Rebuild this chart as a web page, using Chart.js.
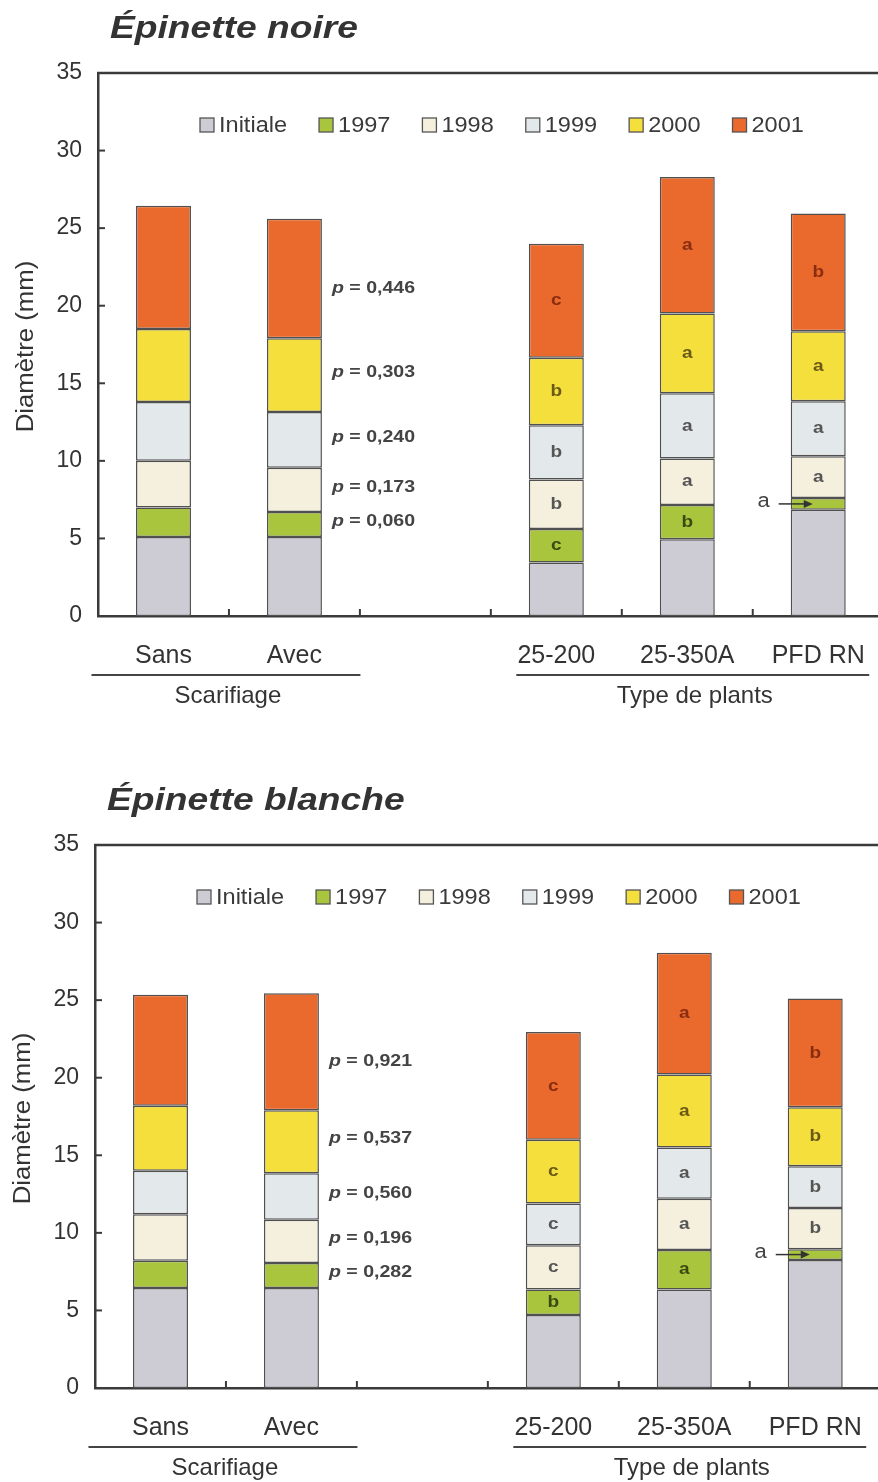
<!DOCTYPE html>
<html>
<head>
<meta charset="utf-8">
<script src="https://cdn.jsdelivr.net/npm/chart.js@4/dist/chart.umd.min.js"></script>
<style>
    html, body { margin: 0; padding: 0; background: #fff; overflow: hidden; }
    .chart-wrap { position: absolute; width: 890px; height: 772px; }
</style>
</head>
<body>
<div class="chart-wrap" style="left:0; top:0"><canvas id="chartNoire" width="890" height="772"></canvas></div>
<div class="chart-wrap" style="left:-3px; top:772px"><canvas id="chartBlanche" width="890" height="772"></canvas></div>

<script>
// Categories (index 2 is the empty gap between the two groups)
const categories = ["Sans", "Avec", "", "25-200", "25-350A", "PFD RN"];
const seriesNames = ["Initiale", "1997", "1998", "1999", "2000", "2001"];
const seriesColors = ["#cdccd4", "#a9c53d", "#f4f0dd", "#e3e8ea", "#f5df3d", "#ea6a2e"];
const letterColors = ["#444", "#3c4a12", "#555", "#555", "#6a5a16", "#8a2c10"];
const yTicks = [0, 5, 10, 15, 20, 25, 30, 35];

// Épinette noire : diameter (mm) reached at the end of each year
const noireInitiale = [5.1, 5.1, null, 3.45, 4.95, 6.85];
const noire1997 = [7.0, 6.7, null, 5.6, 7.15, 7.6];
const noire1998 = [10.0, 9.55, null, 8.8, 10.15, 10.3];
const noire1999 = [13.8, 13.15, null, 12.3, 14.35, 13.85];
const noire2000 = [18.5, 17.9, null, 16.65, 19.5, 18.35];
const noire2001 = [26.45, 25.6, null, 24.0, 28.3, 25.95];
const noirePValues = ["0,060", "0,173", "0,240", "0,303", "0,446"];
// letters for 1997..2001 on the plant-type bars
const noireLetters200 = ["c", "b", "b", "b", "c"];
const noireLetters350 = ["b", "a", "a", "a", "a"];
const noireLettersPfd = ["a", "a", "a", "a", "b"];

// Épinette blanche
const blancheInitiale = [6.45, 6.45, null, 4.7, 6.35, 8.25];
const blanche1997 = [8.2, 8.05, null, 6.35, 8.9, 8.95];
const blanche1998 = [11.2, 10.85, null, 9.2, 12.2, 11.6];
const blanche1999 = [14.0, 13.85, null, 11.9, 15.5, 14.3];
const blanche2000 = [18.2, 17.9, null, 16.0, 20.2, 18.1];
const blanche2001 = [25.35, 25.45, null, 22.95, 28.05, 25.1];
const blanchePValues = ["0,282", "0,196", "0,560", "0,537", "0,921"];
const blancheLetters200 = ["b", "c", "c", "c", "c"];
const blancheLetters350 = ["a", "a", "a", "a", "a"];
const blancheLettersPfd = ["a", "b", "b", "b", "b"];

const FONT = "'Liberation Sans', Arial, sans-serif";
const INK = "#333";

function drawText(ctx, text, x, y, font, color, align, sx) {
    ctx.save();
    ctx.font = font;
    ctx.fillStyle = color;
    ctx.textBaseline = "middle";
    const w = ctx.measureText(text).width * sx;
    let x0 = x;
    if (align === "center") x0 = x - w / 2;
    if (align === "right") x0 = x - w;
    ctx.translate(x0, y);
    ctx.scale(sx, 1);
    ctx.textAlign = "left";
    ctx.fillText(text, 0, 0);
    ctx.restore();
    return w;
}

function line(ctx, x1, y1, x2, y2) {
    ctx.beginPath();
    ctx.moveTo(x1, y1);
    ctx.lineTo(x2, y2);
    ctx.stroke();
}

function makeOverlay(cfg) {
    return {
        id: "overlay",
        afterDraw(chart) {
            const ctx = chart.ctx;
            const area = chart.chartArea;
            const xs = chart.scales.x;
            const ys = chart.scales.y;
            const catW = xs.getPixelForValue(1) - xs.getPixelForValue(0);
            const halfBar = catW * 0.42 / 2;
            const series = cfg.series;

            ctx.save();
            ctx.strokeStyle = "#3a3a3a";
            ctx.lineCap = "butt";

            // top frame line
            ctx.lineWidth = 2.5;
            line(ctx, area.left - 1, area.top, area.right, area.top);

            // inward tick marks
            ctx.lineWidth = 2;
            yTicks.slice(1, -1).forEach((v) => {
                const py = ys.getPixelForValue(v);
                line(ctx, area.left, py, area.left + 7, py);
            });
            for (let i = 0; i < categories.length - 1; i++) {
                const px = (xs.getPixelForValue(i) + xs.getPixelForValue(i + 1)) / 2;
                line(ctx, px, area.bottom, px, area.bottom - 7);
            }

            // title
            drawText(ctx, cfg.title, 110, 29, "italic bold 31px " + FONT, INK, "left", 1.2);

            // y axis title
            ctx.save();
            ctx.translate(27, (area.top + area.bottom) / 2 + 2);
            ctx.rotate(-Math.PI / 2);
            drawText(ctx, "Diamètre (mm)", 0, 0, "23px " + FONT, INK, "center", 1.12);
            ctx.restore();

            // legend
            let bx = 200;
            const ly = 125;
            seriesNames.forEach((name, k) => {
                ctx.fillStyle = seriesColors[k];
                ctx.fillRect(bx, ly - 7, 14, 14);
                ctx.lineWidth = 1.3;
                ctx.strokeStyle = "#555";
                ctx.strokeRect(bx, ly - 7, 14, 14);
                const w = drawText(ctx, name, bx + 19, ly + 1, "22px " + FONT, "#3a3a3a", "left", 1.07);
                bx += 19 + w + 32;
            });

            // significance letters inside plant-type bars
            cfg.letters.forEach((letters, j) => {
                const cat = 3 + j;
                const px = xs.getPixelForValue(cat);
                letters.forEach((l, s) => {
                    const k = s + 1;
                    const lo = series[k - 1][cat];
                    const hi = series[k][cat];
                    const py = ys.getPixelForValue((lo + hi) / 2);
                    if (cat === 5 && k === 1) {
                        // thin segment: letter outside with arrow
                        const left = px - halfBar;
                        drawText(ctx, l, left - 27, py - 2, "20px " + FONT, "#444", "center", 1.1);
                        ctx.strokeStyle = "#333";
                        ctx.lineWidth = 1.5;
                        line(ctx, left - 12, py, left + 18, py);
                        ctx.fillStyle = "#333";
                        ctx.beginPath();
                        ctx.moveTo(left + 22, py);
                        ctx.lineTo(left + 13, py - 4);
                        ctx.lineTo(left + 13, py + 4);
                        ctx.closePath();
                        ctx.fill();
                    } else {
                        drawText(ctx, l, px, py, "bold 17px " + FONT, letterColors[k], "center", 1.12);
                    }
                });
            });

            // p-values next to the "Avec" bar
            const pxAvec = xs.getPixelForValue(1) + halfBar + 10;
            const pShift = [-3, -3, -3, -3, 10];
            cfg.pValues.forEach((p, s) => {
                const k = s + 1;
                const py = ys.getPixelForValue((series[k - 1][1] + series[k][1]) / 2) + pShift[s];
                const w = drawText(ctx, "p", pxAvec, py, "italic bold 17px " + FONT, "#444", "left", 1.15);
                drawText(ctx, " = " + p, pxAvec + w, py, "bold 17px " + FONT, "#444", "left", 1.15);
            });

            // group labels under the axis
            ctx.strokeStyle = "#444";
            ctx.lineWidth = 2;
            const gy = area.bottom + 59;
            const groups = [
                { text: "Scarifiage", from: xs.getPixelForValue(0) - 72, to: xs.getPixelForValue(1) + 66 },
                { text: "Type de plants", from: xs.getPixelForValue(3) - 40, to: xs.getPixelForValue(5) + 51 },
            ];
            groups.forEach((g) => {
                line(ctx, g.from, gy, g.to, gy);
                drawText(ctx, g.text, (g.from + g.to) / 2 + 2, gy + 21, "24px " + FONT, INK, "center", 1.0);
            });

            ctx.restore();
        },
    };
}

function buildChart(canvasId, cfg) {
    const el = document.getElementById(canvasId);
    const datasets = seriesNames.map((name, k) => ({
        label: name,
        data: categories.map((c, i) => {
            const hi = cfg.series[k][i];
            if (hi === null) return null;
            const lo = k === 0 ? 0 : cfg.series[k - 1][i];
            return [lo, hi];
        }),
        backgroundColor: seriesColors[k],
        borderColor: "#505050",
        borderWidth: 1.5,
        borderSkipped: false,
        grouped: false,
        barPercentage: 0.42,
        categoryPercentage: 1,
    }));

    return new Chart(el, {
        type: "bar",
        data: { labels: categories, datasets },
        options: {
            responsive: false,
            animation: false,
            devicePixelRatio: 1,
            layout: { padding: { left: 0, top: 73, right: 3, bottom: 0 } },
            plugins: {
                legend: { display: false },
                tooltip: { enabled: false },
                title: { display: false },
            },
            scales: {
                x: {
                    grid: { display: false, drawTicks: false },
                    border: { display: true, color: "#3a3a3a", width: 2.5 },
                    ticks: {
                        color: INK,
                        padding: 25,
                        maxRotation: 0,
                        autoSkip: false,
                        font: { family: FONT, size: 25 },
                    },
                    afterFit: (s) => { s.height = 156; },
                },
                y: {
                    min: 0,
                    max: 35,
                    grid: { display: false, drawTicks: false },
                    border: { display: true, color: "#3a3a3a", width: 2.5 },
                    ticks: {
                        stepSize: 5,
                        color: INK,
                        padding: 16,
                        font: { family: FONT, size: 23 },
                    },
                    afterFit: (s) => { s.width = 98; },
                },
            },
        },
        plugins: [makeOverlay(cfg)],
    });
}

buildChart("chartNoire", {
    title: "Épinette noire",
    series: [noireInitiale, noire1997, noire1998, noire1999, noire2000, noire2001],
    pValues: noirePValues,
    letters: [noireLetters200, noireLetters350, noireLettersPfd],
});

buildChart("chartBlanche", {
    title: "Épinette blanche",
    series: [blancheInitiale, blanche1997, blanche1998, blanche1999, blanche2000, blanche2001],
    pValues: blanchePValues,
    letters: [blancheLetters200, blancheLetters350, blancheLettersPfd],
});
</script>
</body>
</html>
